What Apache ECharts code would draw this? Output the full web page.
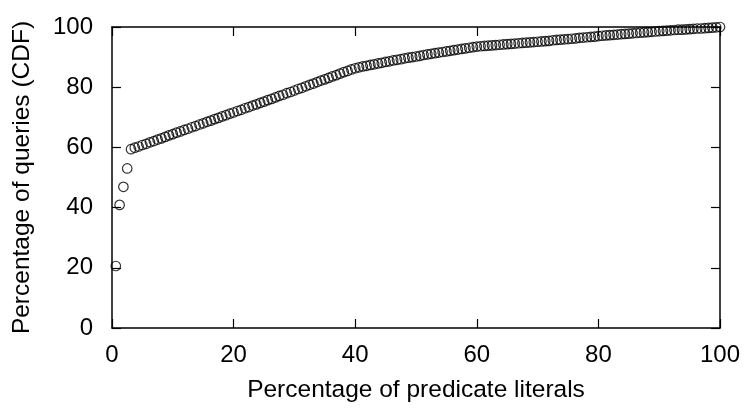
<!DOCTYPE html>
<html>
<head>
<meta charset="utf-8">
<script src="https://cdn.jsdelivr.net/npm/echarts@6/dist/echarts.min.js"></script>
<style>html,body{margin:0;padding:0;background:#fff}#c{width:748px;height:414px}</style>
</head>
<body>
<div id="c"></div>
<script>
const xTitle = "Percentage of predicate literals";
const yTitle = "Percentage of queries (CDF)";
const tickValues = [0, 20, 40, 60, 80, 100];

const literalPct = [
 0.625,1.25,1.875,2.5,3.125,3.75,4.375,5,5.625,6.25,6.875,7.5,8.125,8.75,9.375,10,
 10.625,11.25,11.875,12.5,13.125,13.75,14.375,15,15.625,16.25,16.875,17.5,18.125,18.75,19.375,20,
 20.625,21.25,21.875,22.5,23.125,23.75,24.375,25,25.625,26.25,26.875,27.5,28.125,28.75,29.375,30,
 30.625,31.25,31.875,32.5,33.125,33.75,34.375,35,35.625,36.25,36.875,37.5,38.125,38.75,39.375,40,
 40.625,41.25,41.875,42.5,43.125,43.75,44.375,45,45.625,46.25,46.875,47.5,48.125,48.75,49.375,50,
 50.625,51.25,51.875,52.5,53.125,53.75,54.375,55,55.625,56.25,56.875,57.5,58.125,58.75,59.375,60,
 60.625,61.25,61.875,62.5,63.125,63.75,64.375,65,65.625,66.25,66.875,67.5,68.125,68.75,69.375,70,
 70.625,71.25,71.875,72.5,73.125,73.75,74.375,75,75.625,76.25,76.875,77.5,78.125,78.75,79.375,80,
 80.625,81.25,81.875,82.5,83.125,83.75,84.375,85,85.625,86.25,86.875,87.5,88.125,88.75,89.375,90,
 90.625,91.25,91.875,92.5,93.125,93.75,94.375,95,95.625,96.25,96.875,97.5,98.125,98.75,99.375,100
];
const queryCdf = [
 20.6,40.9,46.9,53.0,59.4,59.9,60.3,60.8,61.2,61.7,62.1,62.6,63.0,63.5,64.0,64.4,
 64.9,65.3,65.8,66.2,66.7,67.1,67.6,68.0,68.5,68.9,69.4,69.8,70.3,70.7,71.2,71.6,
 72.1,72.5,73.0,73.4,73.9,74.3,74.8,75.2,75.7,76.1,76.6,77.1,77.5,78.0,78.4,78.9,
 79.4,79.8,80.3,80.8,81.2,81.7,82.2,82.6,83.1,83.6,84.0,84.5,85.0,85.4,85.9,86.3,
 86.6,86.9,87.1,87.4,87.6,87.9,88.1,88.4,88.6,88.9,89.1,89.3,89.6,89.8,90.0,90.2,
 90.4,90.7,90.9,91.1,91.3,91.5,91.7,91.9,92.1,92.3,92.5,92.7,92.9,93.1,93.3,93.5,
 93.6,93.7,93.8,93.9,94.0,94.1,94.2,94.3,94.4,94.5,94.6,94.7,94.8,94.9,95.0,95.1,
 95.2,95.3,95.4,95.6,95.7,95.8,95.9,96.0,96.1,96.2,96.4,96.5,96.6,96.7,96.8,97.0,
 97.1,97.2,97.3,97.4,97.5,97.6,97.7,97.8,97.9,98.0,98.1,98.2,98.3,98.4,98.5,98.6,
 98.7,98.8,98.9,99.0,99.1,99.1,99.2,99.3,99.4,99.5,99.5,99.6,99.7,99.8,99.9,100.0
];

const points = literalPct.map((x, i) => [x, queryCdf[i]]);
const FONT = "Liberation Sans";
const lineStyle = { color: '#000', width: 1.5 };

function axisCommon(extra) {
  return Object.assign({
    type: 'value', min: tickValues[0], max: tickValues[tickValues.length - 1], interval: 20,
    axisLine: { show: true, onZero: false, lineStyle: lineStyle },
    axisTick: { show: true, inside: true, length: 9, lineStyle: { color: '#000', width: 1.2 } },
    splitLine: { show: false }
  }, extra);
}

const chart = echarts.init(document.getElementById('c'), null, { renderer: 'canvas' });
chart.setOption({
  animation: false,
  backgroundColor: '#fff',
  grid: { left: 112, right: 28, top: 27, bottom: 86 },
  xAxis: [
    axisCommon({
      position: 'bottom',
      name: xTitle, nameLocation: 'middle', nameGap: 50,
      nameTextStyle: { fontFamily: FONT, fontSize: 24.5, color: '#000' },
      axisLabel: { fontFamily: FONT, fontSize: 24, color: '#000', margin: 15 }
    }),
    axisCommon({ position: 'top', axisLabel: { show: false } })
  ],
  yAxis: [
    axisCommon({
      position: 'left',
      name: yTitle, nameLocation: 'middle', nameGap: 77,
      nameTextStyle: { fontFamily: FONT, fontSize: 24.5, color: '#000' },
      axisLabel: { fontFamily: FONT, fontSize: 24, color: '#000', margin: 19 }
    }),
    axisCommon({ position: 'right', axisLabel: { show: false } })
  ],
  series: [{
    type: 'scatter',
    xAxisIndex: 0, yAxisIndex: 0,
    data: points,
    symbol: 'circle',
    symbolSize: 9.5,
    clip: false,
    itemStyle: { color: 'rgba(0,0,0,0)', borderColor: '#000', borderWidth: 1.2 }
  }]
});
</script>
</body>
</html>
